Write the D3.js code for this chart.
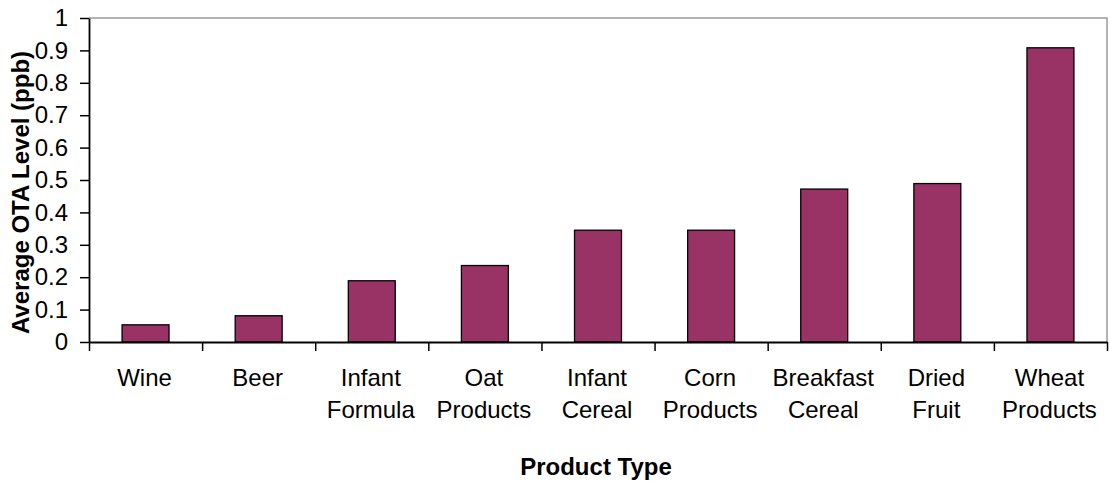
<!DOCTYPE html>
<html>
<head>
<meta charset="utf-8">
<script src="https://cdn.jsdelivr.net/npm/d3@7"></script>
<style>
  html, body { margin: 0; padding: 0; background: #fff; }
  svg { display: block; font-family: "Liberation Sans", Arial, sans-serif; }
</style>
</head>
<body>
<svg id="chart" width="1110" height="481"></svg>
<script>
const categories = ["Wine", "Beer", "Infant Formula", "Oat Products", "Infant Cereal",
  "Corn Products", "Breakfast Cereal", "Dried Fruit", "Wheat Products"];
const values = [0.053, 0.081, 0.189, 0.236, 0.345, 0.345, 0.472, 0.489, 0.908];
const yTickValues = [0, 0.1, 0.2, 0.3, 0.4, 0.5, 0.6, 0.7, 0.8, 0.9, 1];
const yTickLabels = ["0", "0.1", "0.2", "0.3", "0.4", "0.5", "0.6", "0.7", "0.8", "0.9", "1"];
const xTitle = "Product Type";
const yTitle = "Average OTA Level (ppb)";

const svg = d3.select("#chart");
const m = { left: 89, right: 1107, top: 18, bottom: 342 };
const fontSize = 24;

const x = d3.scaleBand().domain(categories).range([m.left, m.right]).paddingInner(0).paddingOuter(0);
const y = d3.scaleLinear().domain([0, 1]).range([m.bottom, m.top]);

// frame (top & right, gray)
svg.append("path")
  .attr("d", `M${m.left},${m.top}H${m.right}V${m.bottom}`)
  .attr("fill", "none").attr("stroke", "#9a9a9a").attr("stroke-width", 1.5);

// bars
const barW = x.bandwidth() * 0.415;
svg.append("g").selectAll("rect").data(values).join("rect")
  .attr("x", (d, i) => x(categories[i]) + (x.bandwidth() - barW) / 2)
  .attr("y", d => y(d))
  .attr("width", barW)
  .attr("height", d => y(0) - y(d))
  .attr("fill", "#993366")
  .attr("stroke", "#000")
  .attr("stroke-width", 1.3);

// y axis
const yAxis = d3.axisLeft(y)
  .tickValues(yTickValues)
  .tickFormat((d, i) => yTickLabels[i])
  .tickSize(9).tickSizeOuter(0).tickPadding(12);
const gy = svg.append("g").attr("transform", `translate(${m.left},0)`).call(yAxis);
gy.select(".domain").attr("stroke", "#000").attr("stroke-width", 1.8);
gy.selectAll(".tick line").attr("stroke", "#000").attr("stroke-width", 1.5);
gy.selectAll(".tick text").attr("font-size", fontSize).attr("fill", "#000")
  .attr("font-family", "'Liberation Sans', Arial, sans-serif");

// x axis: ticks at category boundaries
const xb = d3.scaleLinear().domain([0, categories.length]).range([m.left, m.right]);
const xAxis = d3.axisBottom(xb).tickValues(d3.range(categories.length + 1))
  .tickFormat("").tickSize(9).tickSizeOuter(0);
const gx = svg.append("g").attr("transform", `translate(0,${m.bottom})`).call(xAxis);
gx.select(".domain").attr("stroke", "#000").attr("stroke-width", 1.8);
gx.selectAll(".tick line").attr("stroke", "#000").attr("stroke-width", 1.5);

// x labels
const lab = svg.append("g").selectAll("text").data(categories).join("text")
  .attr("text-anchor", "middle")
  .attr("font-size", fontSize)
  .attr("fill", "#000")
  .attr("transform", d => `translate(${x(d) + x.bandwidth() / 2 - 1},0)`);
lab.selectAll("tspan").data(d => d.split(" ")).join("tspan")
  .attr("x", 0)
  .attr("y", (d, i) => 385.5 + i * 32)
  .text(d => d);

// axis titles
svg.append("text")
  .attr("x", (m.left + m.right) / 2 - 2).attr("y", 475)
  .attr("text-anchor", "middle").attr("font-size", fontSize).attr("font-weight", "bold")
  .text(xTitle);

svg.append("text")
  .attr("transform", `translate(29,192.5) rotate(-90)`)
  .attr("text-anchor", "middle").attr("font-size", fontSize).attr("font-weight", "bold")
  .text(yTitle);
</script>
</body>
</html>
